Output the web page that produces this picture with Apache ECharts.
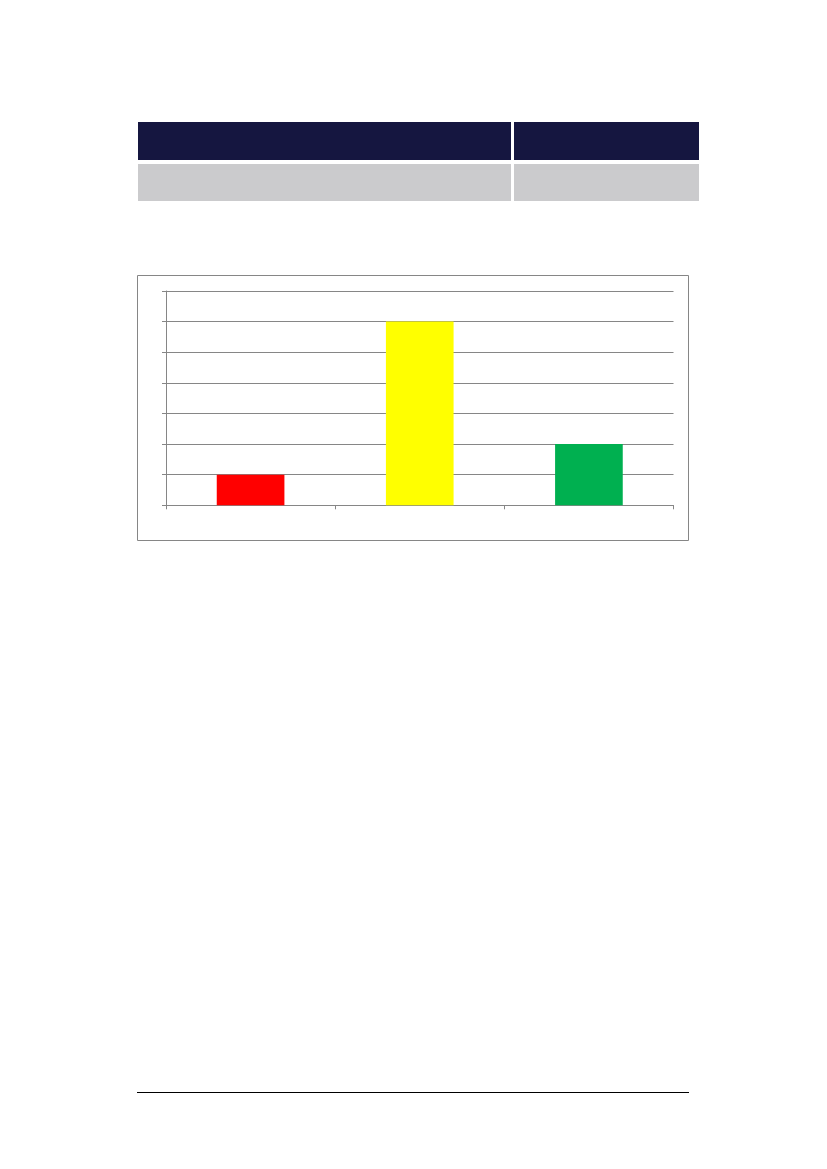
<!DOCTYPE html>
<html>
<head>
<meta charset="utf-8">
<script src="https://cdn.jsdelivr.net/npm/echarts@6/dist/echarts.min.js"></script>
<style>
html,body{margin:0;padding:0;background:#fff;}
#chart{width:827px;height:1169px;}
</style>
</head>
<body>
<div id="chart"></div>
<script>
// Data
var categories = ['Red', 'Yellow', 'Green'];
var values = [1, 6, 2];
var barColors = ['#FF0000', '#FFFF00', '#00B050'];
var yTicks = [0, 1, 2, 3, 4, 5, 6, 7];

var axisGray = '#868686';
var chart = echarts.init(document.getElementById('chart'), null, {renderer: 'canvas'});

var option = {
  backgroundColor: '#ffffff',
  animation: false,
  grid: {left: 166, right: 153.5, top: 291, bottom: 663.7, containLabel: false},
  xAxis: {
    type: 'category',
    data: categories,
    boundaryGap: true,
    axisLine: {show: true, lineStyle: {color: axisGray, width: 1}},
    axisTick: {show: true, length: 4, inside: false, alignWithLabel: false, lineStyle: {color: axisGray}},
    axisLabel: {show: false},
    splitLine: {show: false}
  },
  yAxis: {
    type: 'value',
    min: yTicks[0],
    max: yTicks[yTicks.length - 1],
    interval: 1,
    axisLine: {show: true, lineStyle: {color: axisGray, width: 1}},
    axisTick: {show: true, length: 4, inside: false, lineStyle: {color: axisGray}},
    axisLabel: {show: false},
    splitLine: {show: true, lineStyle: {color: axisGray, width: 1}}
  },
  series: [{
    type: 'bar',
    barCategoryGap: '60%',
    data: values.map(function (v, i) {
      return {value: v, itemStyle: {color: barColors[i]}};
    }),
    label: {show: false}
  }],
  graphic: [
    // header table
    {type: 'rect', shape: {x: 138, y: 122, width: 373, height: 38}, style: {fill: '#151640'}, silent: true},
    {type: 'rect', shape: {x: 514, y: 122, width: 185, height: 38}, style: {fill: '#151640'}, silent: true},
    {type: 'rect', shape: {x: 138, y: 164, width: 373, height: 37}, style: {fill: '#CBCBCD'}, silent: true},
    {type: 'rect', shape: {x: 514, y: 164, width: 185, height: 37}, style: {fill: '#CBCBCD'}, silent: true},
    // chart frame
    {type: 'rect', shape: {x: 137.5, y: 275.5, width: 551, height: 265}, style: {fill: 'none', stroke: axisGray, lineWidth: 1}, silent: true, z: -1},
    // footer rule
    {type: 'line', shape: {x1: 137, y1: 1092.5, x2: 689, y2: 1092.5}, style: {stroke: '#000000', lineWidth: 1}, silent: true}
  ]
};
chart.setOption(option);
</script>
</body>
</html>
